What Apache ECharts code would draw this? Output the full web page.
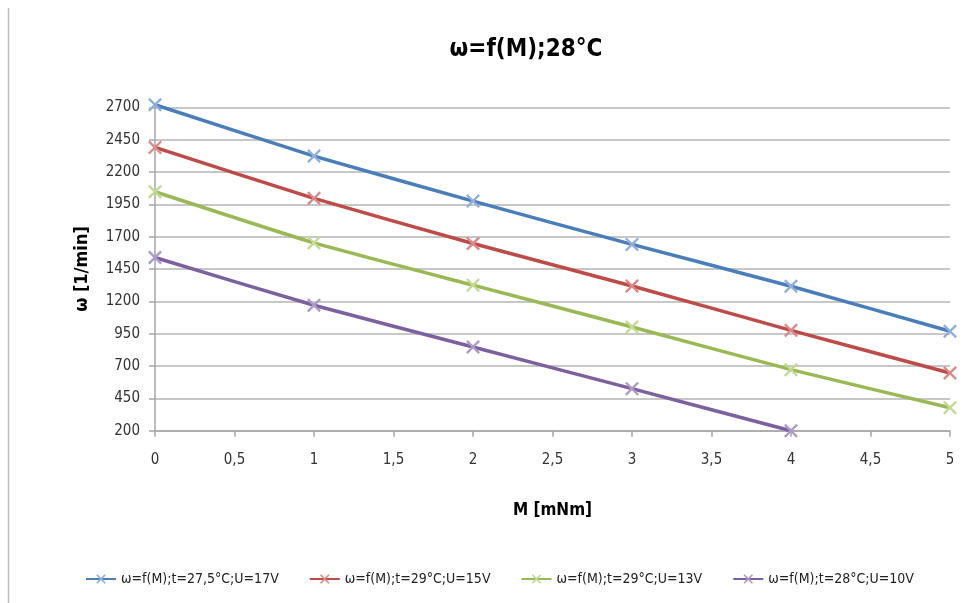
<!DOCTYPE html>
<html><head><meta charset="utf-8">
<script src="https://cdn.jsdelivr.net/npm/echarts@6/dist/echarts.min.js"></script>
<style>html,body{margin:0;padding:0;background:#fff}#c{width:971px;height:603px}</style>
</head><body><div id="c"></div>
<script>
const xValues = [0, 1, 2, 3, 4, 5];
const seriesNames = ['ω=f(M);t=27,5°C;U=17V', 'ω=f(M);t=29°C;U=15V', 'ω=f(M);t=29°C;U=13V', 'ω=f(M);t=28°C;U=10V'];
const blue = [2720, 2323, 1975, 1640, 1317, 969];
const red = [2390, 1996, 1647, 1319, 976, 646];
const green = [2047, 1652, 1325, 1002, 672, 378];
const purple = [1539, 1170, 847, 525, 200];
const colors = ['#4A7EBB', '#BE4B48', '#98B954', '#7D60A0'];
const markColors = ['#8FB0DB', '#DB8A88', '#C3DA95', '#AE9BC8'];
const values = [blue, red, green, purple];

const FONT = "'DejaVu Sans Condensed', 'Open Sans', sans-serif";
const X = 'path://M0,1.2 L1.2,0 L5,3.8 L8.8,0 L10,1.2 L6.2,5 L10,8.8 L8.8,10 L5,6.2 L1.2,10 L0,8.8 L3.8,5 Z';

const chart = echarts.init(document.getElementById('c'));
chart.setOption({
  animation: false,
  title: {
    text: 'ω=f(M);28°C', left: 521, top: 33, textAlign: 'center',
    textStyle: {fontFamily: FONT, fontSize: 24, fontWeight: 'bold', color: '#000'}
  },
  graphic: [{type: 'line', shape: {x1: 8.5, y1: 8, x2: 8.5, y2: 603}, style: {stroke: '#bbb', lineWidth: 1.5}}],
  grid: {left: 155, right: 21, top: 107.3, bottom: 172.3},
  legend: {
    bottom: 12, left: 80, itemWidth: 30, itemHeight: 12, itemGap: 30,
    textStyle: {fontFamily: FONT, fontSize: 14, color: '#222'},
    data: seriesNames
  },
  xAxis: {
    type: 'value', min: 0, max: 5, interval: 0.5,
    name: 'M [mNm]', nameLocation: 'middle', nameGap: 71,
    nameTextStyle: {fontFamily: FONT, fontSize: 17, fontWeight: 'bold', color: '#000'},
    axisLine: {lineStyle: {color: '#a6a6a6', width: 1.5}},
    axisTick: {show: true, length: 6, lineStyle: {color: '#a6a6a6', width: 1.5}},
    axisLabel: {margin: 22, fontFamily: FONT, fontSize: 15, color: '#333',
      formatter: v => String(v).replace('.', ',')},
    splitLine: {show: false}
  },
  yAxis: {
    type: 'value', min: 200, max: 2700, interval: 250,
    name: 'ω [1/min]', nameLocation: 'middle', nameGap: 64, nameRotate: 90,
    nameTextStyle: {fontFamily: FONT, fontSize: 18, fontWeight: 'bold', color: '#000'},
    axisLine: {show: true, lineStyle: {color: '#a6a6a6', width: 1.5}},
    axisTick: {show: true, length: 6, lineStyle: {color: '#a6a6a6', width: 1.5}},
    axisLabel: {margin: 15, fontFamily: FONT, fontSize: 15, color: '#333',
      formatter: v => String(v)},
    splitLine: {lineStyle: {color: '#b4b4b4', width: 1.5}}
  },
  series: values.map((vals, i) => ({
    name: seriesNames[i], type: 'line', smooth: 0.15, clip: false,
    data: vals.map((v, j) => [xValues[j], v]),
    symbol: X, symbolSize: 14,
    lineStyle: {color: colors[i], width: 3.5},
    itemStyle: {color: markColors[i]},
    z: 2 + i
  }))
});
</script></body></html>
